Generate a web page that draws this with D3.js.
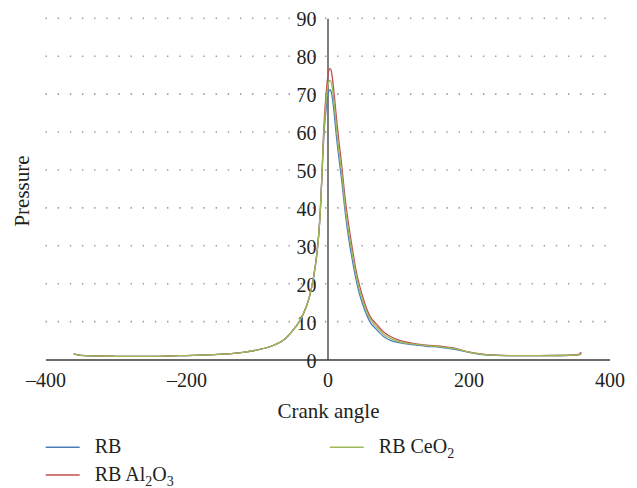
<!DOCTYPE html>
<html>
<head>
<meta charset="utf-8">
<script src="https://cdn.jsdelivr.net/npm/d3@7/dist/d3.min.js"></script>
<style>
  html, body { margin: 0; padding: 0; background: #fff; }
</style>
</head>
<body>
<svg id="chart" width="637" height="488"></svg>
<script>
// ---- data ----
const angles = [-360,-350,-330,-300,-270,-240,-210,-180,-150,-120,-100,-80,-60,-50,-40,-30,-25,-20,-15,-12,-10,-8,
  -6,-4,-2,0,2,4,6,8,10,12,15,20,25,30,35,40,45,50,60,70,80,90,100,120,140,160,180,200,220,240,270,300,330,355,360];

const rising = [1.5,1.1,0.95,0.85,0.8,0.85,1.0,1.15,1.4,1.9,2.5,3.5,5.5,7.5,10,14,17,21.5,28,34,40,48];

const rbTail    = [56,62,66,69,70.8,71.2,70,67.5,64,60,55,47.5,39,32,26.5,21.5,17.5,14.5,10,7.8,6.0,5.0,4.5,3.9,3.5,3.2,2.7,1.9,1.3,1.1,1.0,1.0,1.05,1.2,1.4];
const al2o3Tail = [58,65,70,74,76.3,76.7,75.5,72.5,69,65,59.5,51.5,42.5,35.5,29.5,24,19.8,16.5,11.5,9.2,7.2,6.0,5.2,4.3,3.8,3.5,3.0,2.0,1.4,1.15,1.0,1.0,1.05,1.25,1.9];
const ceo2Tail  = [57,63,68,71.5,73.3,73.6,72.5,70,66.5,62.5,57,49.5,40.5,33.7,28,22.8,18.6,15.5,10.8,8.5,6.6,5.5,4.8,4.1,3.65,3.35,2.85,1.95,1.35,1.1,1.0,1.0,1.05,1.2,1.5];

const seriesNames = ["RB", "RB Al2O3", "RB CeO2"];
const seriesValues = [rising.concat(rbTail), rising.concat(al2o3Tail), rising.concat(ceo2Tail)];
const seriesColors = ["#4a7ebb", "#c0504d", "#9bbb59"];

const xTicks = [-400, -200, 0, 200, 400];
const yTicks = [0, 10, 20, 30, 40, 50, 60, 70, 80, 90];

// ---- layout ----
const FONT = "font-family:'Liberation Serif','Times New Roman',serif";
const svg = d3.select("#chart");
const x = d3.scaleLinear().domain([-400, 400]).range([45.5, 609.5]);
const y = d3.scaleLinear().domain([0, 90]).range([359.5, 18.3]);

// dotted gridlines
svg.append("g").selectAll("line")
  .data(yTicks.filter(v => v > 0))
  .join("line")
  .attr("x1", x(-400)).attr("x2", x(400))
  .attr("y1", d => y(d)).attr("y2", d => y(d))
  .attr("stroke", "#9a9a9a")
  .attr("stroke-width", 1.6)
  .attr("stroke-dasharray", "1.4,10.75");

// x axis
const xAxis = svg.append("g").attr("transform", `translate(0,${y(0)})`)
  .call(d3.axisBottom(x).tickValues(xTicks).tickSize(0).tickPadding(13)
    .tickFormat(d => d < 0 ? "\u2013" + Math.abs(d) : d));
xAxis.select(".domain").attr("stroke", "#3a3a3a").attr("stroke-width", 1.3);
xAxis.selectAll("text").attr("font-size", 20).attr("fill", "#231f20").attr("style", FONT);

// y axis at x = 0
const yAxis = svg.append("g").attr("transform", `translate(${x(0)},0)`)
  .call(d3.axisLeft(y).tickValues(yTicks).tickSize(0).tickPadding(11));
yAxis.select(".domain").attr("stroke", "#3a3a3a").attr("stroke-width", 1.3);
yAxis.selectAll("text").attr("font-size", 20).attr("fill", "#231f20").attr("style", FONT)
  .attr("dy", "0.38em");

// lines
const line = d3.line().x((d, i) => x(angles[i])).y(d => y(d)).curve(d3.curveMonotoneX);
svg.append("g").selectAll("path")
  .data(seriesValues)
  .join("path")
  .attr("d", d => line(d))
  .attr("fill", "none")
  .attr("stroke", (d, i) => seriesColors[i])
  .attr("stroke-width", 1.3);

// axis titles
svg.append("text").attr("x", x(0) + 1).attr("y", 418).attr("text-anchor", "middle")
  .attr("style", FONT).attr("fill", "#231f20").attr("font-size", 21).text("Crank angle");
svg.append("text").attr("transform", `translate(29,191) rotate(-90)`).attr("text-anchor", "middle")
  .attr("style", FONT).attr("fill", "#231f20").attr("font-size", 21).text("Pressure");

// legend
const legendPos = [
  {lx: 45.7, ly: 447.3, tx: 94.7, ty: 453},
  {lx: 45.7, ly: 475, tx: 94.7, ty: 480.7},
  {lx: 329.8, ly: 447.3, tx: 378.8, ty: 453}
];
const legendParts = [
  [["RB", false]],
  [["RB Al", false], ["2", true], ["O", false], ["3", true]],
  [["RB CeO", false], ["2", true]]
];
const lg = svg.append("g");
seriesNames.forEach((name, i) => {
  const p = legendPos[i];
  lg.append("line").attr("x1", p.lx).attr("x2", p.lx + 34)
    .attr("y1", p.ly).attr("y2", p.ly)
    .attr("stroke", seriesColors[i]).attr("stroke-width", 1.6);
  const t = lg.append("text").attr("x", p.tx).attr("y", p.ty).attr("font-size", 20)
    .attr("style", FONT).attr("fill", "#231f20");
  legendParts[i].forEach(([s, sub], k) => {
    const ts = t.append("tspan").text(s);
    if (sub) ts.attr("font-size", 14).attr("dy", 5);
    else if (k > 0) ts.attr("dy", -5);
  });
});
</script>
</body>
</html>
